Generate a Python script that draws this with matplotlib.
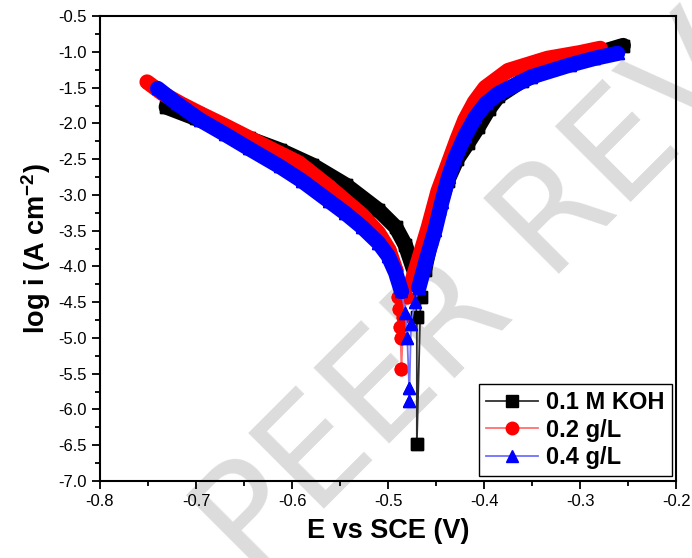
import matplotlib
matplotlib.use("Agg")
import matplotlib.pyplot as plt
import numpy as np
from matplotlib.ticker import MultipleLocator, FormatStrFormatter

plt.rcParams['font.family'] = 'Liberation Sans'
plt.rcParams['mathtext.fontset'] = 'custom'
plt.rcParams['mathtext.rm'] = 'Liberation Sans'
plt.rcParams['mathtext.bf'] = 'Liberation Sans:bold'

# 0.1 M KOH (blank)
koh_E = [-0.731, -0.700, -0.676, -0.645, -0.613, -0.579, -0.544, -0.510, -0.492, -0.482,
         -0.474, -0.470, -0.470, -0.466, -0.462, -0.455, -0.447, -0.438, -0.428, -0.417,
         -0.406, -0.395, -0.385, -0.360, -0.330, -0.300, -0.275, -0.255]
koh_logi = [-1.77, -1.93, -2.06, -2.21, -2.37, -2.58, -2.86, -3.21, -3.45, -3.70,
            -4.02, -4.71, -6.48, -4.43, -4.05, -3.62, -3.20, -2.80, -2.50, -2.28,
            -2.05, -1.80, -1.62, -1.40, -1.24, -1.10, -0.99, -0.91]

# 0.2 g/L inhibitor
g02_E = [-0.751, -0.735, -0.715, -0.696, -0.670, -0.645, -0.620, -0.593, -0.562, -0.527,
         -0.510, -0.499, -0.492, -0.490, -0.489, -0.488, -0.487, -0.486, -0.484, -0.480,
         -0.476, -0.468, -0.458, -0.448, -0.437, -0.428, -0.420, -0.410, -0.399, -0.375,
         -0.334, -0.300, -0.279]
g02_logi = [-1.42, -1.58, -1.73, -1.86, -2.03, -2.20, -2.37, -2.55, -2.88, -3.28,
            -3.53, -3.77, -4.05, -4.43, -4.60, -4.85, -5.00, -5.43, -4.70, -4.42,
            -4.25, -3.90, -3.45, -2.95, -2.55, -2.22, -1.95, -1.70, -1.50, -1.26,
            -1.09, -1.01, -0.95]

# 0.4 g/L inhibitor
g04_E = [-0.740, -0.720, -0.696, -0.670, -0.645, -0.613, -0.590, -0.562, -0.545, -0.527,
         -0.510, -0.500, -0.492, -0.486, -0.482, -0.480, -0.478, -0.478, -0.476, -0.472,
         -0.468, -0.460, -0.451, -0.444, -0.437, -0.430, -0.420, -0.409, -0.398, -0.385,
         -0.351, -0.310, -0.285, -0.261]
g04_logi = [-1.51, -1.72, -1.95, -2.15, -2.35, -2.60, -2.80, -3.08, -3.25, -3.45,
            -3.67, -3.85, -4.09, -4.35, -4.65, -5.00, -5.70, -5.88, -4.80, -4.50,
            -4.30, -3.90, -3.49, -3.10, -2.75, -2.48, -2.18, -1.91, -1.72, -1.58,
            -1.35, -1.18, -1.09, -1.02]

series = [
    (koh_E, koh_logi, "0.1 M KOH", "black", "#303030", "s", 8),
    (g02_E, g02_logi, "0.2 g/L", "red", "#ff7070", "o", 9),
    (g04_E, g04_logi, "0.4 g/L", "blue", "#7070ff", "^", 9),
]

fig = plt.figure(figsize=(6.92, 5.58), dpi=100)
ax = fig.add_axes([0.1445, 0.138, 0.8325, 0.833])
ax.set_facecolor("none")

# watermark behind everything
fig.text(0.75, 0.54, "D PEER REVIEW", rotation=45, rotation_mode="anchor",
         ha="center", va="center", fontsize=105, color="#dcdcdc",
         family="DejaVu Sans", zorder=-1)

for E, logi, label, col, lcol, mk, ms in series:
    E = np.array(E)
    logi = np.array(logi)
    ax.plot(E, logi, color=lcol, lw=1.3, marker=mk, ms=ms, mfc=col, mec=col, label=label)
    # dense part of the scan looks like a solid band
    band = np.where(logi > -4.4, logi, np.nan)
    ax.plot(E, band, color=col, lw=11, solid_capstyle="round", solid_joinstyle="round")
    ax.plot(E, logi, ls="none", marker=mk, ms=ms, mfc=col, mec=col)

ax.set_xlim(-0.8, -0.2)
ax.set_ylim(-7.0, -0.5)
ax.xaxis.set_major_locator(MultipleLocator(0.1))
ax.xaxis.set_minor_locator(MultipleLocator(0.05))
ax.yaxis.set_major_locator(MultipleLocator(0.5))
ax.yaxis.set_minor_locator(MultipleLocator(0.25))
ax.xaxis.set_major_formatter(FormatStrFormatter("%.1f"))
ax.yaxis.set_major_formatter(FormatStrFormatter("%.1f"))
ax.tick_params(which="both", direction="out", width=1.3, labelsize=12)
ax.tick_params(which="major", length=6)
ax.tick_params(which="minor", length=3.5)
for s in ax.spines.values():
    s.set_linewidth(1.5)

ax.set_xlabel("E vs SCE (V)", fontsize=19.5, fontweight="bold", labelpad=6)
ax.set_ylabel(r"log i (A cm$^{\mathbf{-2}}$)", fontsize=19.5, fontweight="bold", labelpad=4)

leg = ax.legend(loc="lower right", bbox_to_anchor=(0.993, 0.01), borderaxespad=0,
                prop={"weight": "bold", "size": 17}, handlelength=2.2, handletextpad=0.35,
                labelspacing=0.2, borderpad=0.3, fancybox=False, framealpha=1,
                edgecolor="black")
leg.get_frame().set_linewidth(1.0)

fig.savefig("out.png", dpi=100)
